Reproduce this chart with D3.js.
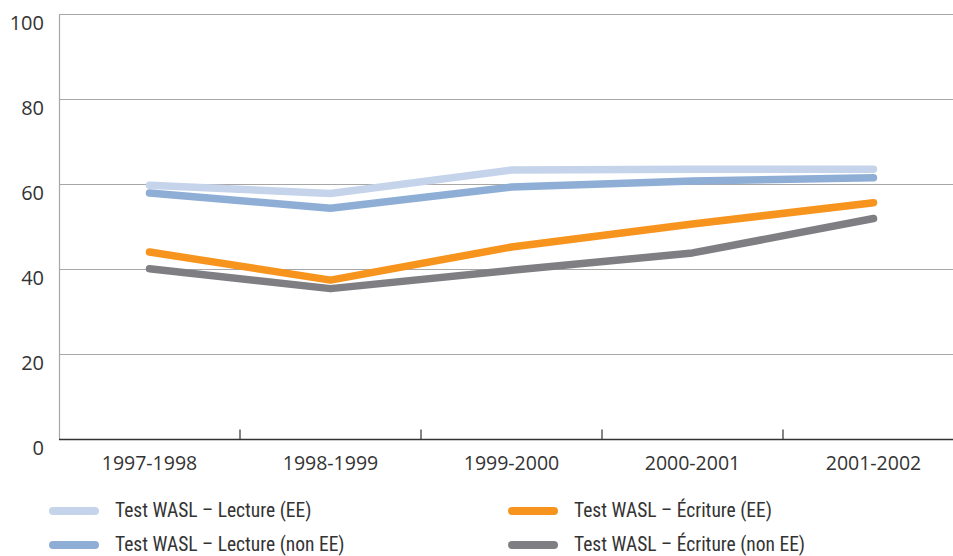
<!DOCTYPE html>
<html>
<head>
<meta charset="utf-8">
<script src="https://cdn.jsdelivr.net/npm/d3@7"></script>
<style>
  body { margin: 0; background: #fff; }
  text { fill: #333; }
</style>
</head>
<body>
<div id="chart-area"></div>
<script>
// school years on the x axis
const years = ["1997-1998", "1998-1999", "1999-2000", "2000-2001", "2001-2002"]
const yTicks = [0, 20, 40, 60, 80, 100]

// percent of students meeting the standard
const lectureEE = [59.8, 57.9, 63.4, 63.6, 63.6]
const lectureNonEE = [58.0, 54.4, 59.4, 60.8, 61.6]
const ecritureEE = [44.1, 37.5, 45.3, 50.7, 55.7]
const ecritureNonEE = [40.2, 35.5, 39.8, 43.9, 52.0]

const seriesNames = [
	"Test WASL – Lecture (EE)",
	"Test WASL – Lecture (non EE)",
	"Test WASL – Écriture (EE)",
	"Test WASL – Écriture (non EE)"
]
const seriesValues = [lectureEE, lectureNonEE, ecritureEE, ecritureNonEE]
const colors = ["#c5d4eb", "#8eaed6", "#f7941d", "#7f7f83"]

const W = 953, H = 556
const svg = d3.select("#chart-area").append("svg")
	.attr("width", W)
	.attr("height", H)

const x = d3.scaleBand().domain(years).range([59, 964])
const y = d3.scaleLinear().domain([0, 100]).range([439.5, 14.5])

// gridlines
svg.append("g").selectAll("line")
	.data(yTicks.filter(d => d > 0))
	.enter().append("line")
		.attr("x1", 59).attr("x2", W)
		.attr("y1", d => y(d)).attr("y2", d => y(d))
		.attr("stroke", "#a7a7a7")
		.attr("stroke-width", 1.2)

// left axis line
svg.append("line")
	.attr("x1", 59.5).attr("x2", 59.5)
	.attr("y1", y(100)).attr("y2", y(0))
	.attr("stroke", "#a7a7a7")
	.attr("stroke-width", 1.2)

// y labels sit just below their gridline
svg.append("g").selectAll("text")
	.data(yTicks)
	.enter().append("text")
		.attr("x", 44)
		.attr("y", d => y(d) + 15)
		.attr("text-anchor", "end")
		.style("font-family", "'Open Sans', sans-serif")
		.style("font-size", "20px")
		.text(d => d)

// x axis baseline and tick marks between categories
svg.append("line")
	.attr("x1", 59).attr("x2", W)
	.attr("y1", y(0)).attr("y2", y(0))
	.attr("stroke", "#333")
	.attr("stroke-width", 1.6)

svg.append("g").selectAll("line")
	.data(years.slice(1))
	.enter().append("line")
		.attr("x1", d => x(d)).attr("x2", d => x(d))
		.attr("y1", y(0) - 10).attr("y2", y(0))
		.attr("stroke", "#333")
		.attr("stroke-width", 1.2)

svg.append("g").selectAll("text")
	.data(years)
	.enter().append("text")
		.attr("x", d => x(d) + x.bandwidth() / 2)
		.attr("y", 470)
		.attr("text-anchor", "middle")
		.style("font-family", "'Open Sans', sans-serif")
		.style("font-size", "19.5px")
		.text(d => d)

// lines
const line = d3.line()
	.x((d, i) => x(years[i]) + x.bandwidth() / 2)
	.y(d => y(d))

svg.append("g").selectAll("path")
	.data(seriesValues)
	.enter().append("path")
		.attr("d", d => line(d))
		.attr("fill", "none")
		.attr("stroke", (d, i) => colors[i])
		.attr("stroke-width", 7.5)
		.attr("stroke-linecap", "round")
		.attr("stroke-linejoin", "round")

// legend, two columns
const legend = svg.append("g").selectAll("g")
	.data(seriesNames)
	.enter().append("g")
		.attr("transform", (d, i) => `translate(${i < 2 ? 53 : 512}, ${i % 2 === 0 ? 511 : 545})`)

legend.append("line")
	.attr("x1", 0).attr("x2", 42)
	.attr("stroke", (d, i) => colors[i])
	.attr("stroke-width", 8)
	.attr("stroke-linecap", "round")

legend.append("text")
	.attr("x", 62)
	.attr("y", 6)
	.style("font-family", "'Liberation Sans Narrow', 'Roboto Condensed', sans-serif")
	.style("font-size", "19.5px")
	.text(d => d)
</script>
</body>
</html>
